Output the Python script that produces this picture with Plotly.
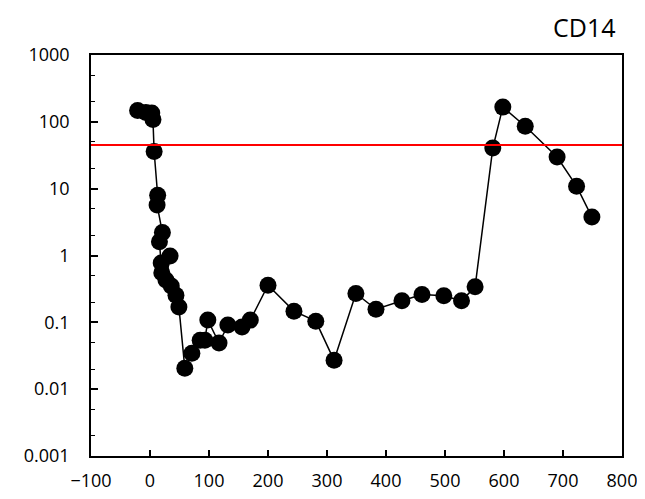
import plotly.graph_objects as go

# Data (days vs CD14 level, log scale)
days = [-21, -7, 3, 5, 7, 13, 12, 21, 16, 19, 20, 34, 27, 36, 44, 49, 59, 71, 85, 93,
        98, 117, 132, 156, 170, 200, 244, 281, 312, 349, 383, 427, 461, 498, 528, 551,
        581, 598, 636, 690, 723, 749]
cd14 = [148, 138, 135, 108, 36, 8.0, 5.7, 2.2, 1.6, 0.77, 0.55, 0.98, 0.43, 0.35, 0.255,
        0.17, 0.0206, 0.0346, 0.054, 0.054, 0.108, 0.049, 0.091, 0.085, 0.108, 0.36,
        0.147, 0.104, 0.027, 0.27, 0.157, 0.21, 0.26, 0.25, 0.21, 0.34, 40.5, 166, 86,
        29.7, 10.9, 3.76]
threshold = 45
title_text = "CD14"
x_ticks = [-100, 0, 100, 200, 300, 400, 500, 600, 700, 800]
y_ticks = [0.001, 0.01, 0.1, 1, 10, 100, 1000]
y_tick_labels = ["0.001", "0.01", "0.1", "1", "10", "100", "1000"]

FONT = "Open Sans"

fig = go.Figure()
fig.add_trace(go.Scatter(
    x=days, y=cd14, mode="lines+markers",
    line=dict(color="black", width=1.5),
    marker=dict(color="black", size=17),
    showlegend=False, hoverinfo="skip",
))

fig.add_shape(type="line", xref="paper", x0=0, x1=1, yref="y", y0=threshold, y1=threshold,
              line=dict(color="#ff0000", width=2), layer="above")

fig.add_annotation(text=title_text, xref="paper", yref="paper", x=0.99, y=1.07,
                   xanchor="right", yanchor="middle", showarrow=False,
                   font=dict(family=FONT, size=25, color="black"))

fig.update_layout(
    width=637, height=483,
    margin=dict(l=83, r=23, t=47, b=35, autoexpand=False),
    paper_bgcolor="white", plot_bgcolor="white",
    font=dict(family=FONT, size=18, color="black"),
    xaxis=dict(range=[-100, 800], tickvals=x_ticks, ticks="inside", ticklen=6,
               tickwidth=1.5, tickcolor="black", showline=True, linecolor="black",
               linewidth=1.5, mirror=True, showgrid=False, zeroline=False,
               automargin=False, ticklabelstandoff=8, ticklabeloverflow="allow"),
    yaxis=dict(type="log", range=[-3, 3], tickvals=y_ticks, ticktext=y_tick_labels,
               ticks="inside", ticklen=7, tickwidth=1.5, tickcolor="black",
               minor=dict(ticks="inside", ticklen=4, tickwidth=1, tickcolor="black", showgrid=False),
               showline=True, linecolor="black", linewidth=1.5, mirror=True,
               showgrid=False, zeroline=False, automargin=False, ticklabelstandoff=16,
               ticklabeloverflow="allow"),
)

fig.write_html("out.html")
